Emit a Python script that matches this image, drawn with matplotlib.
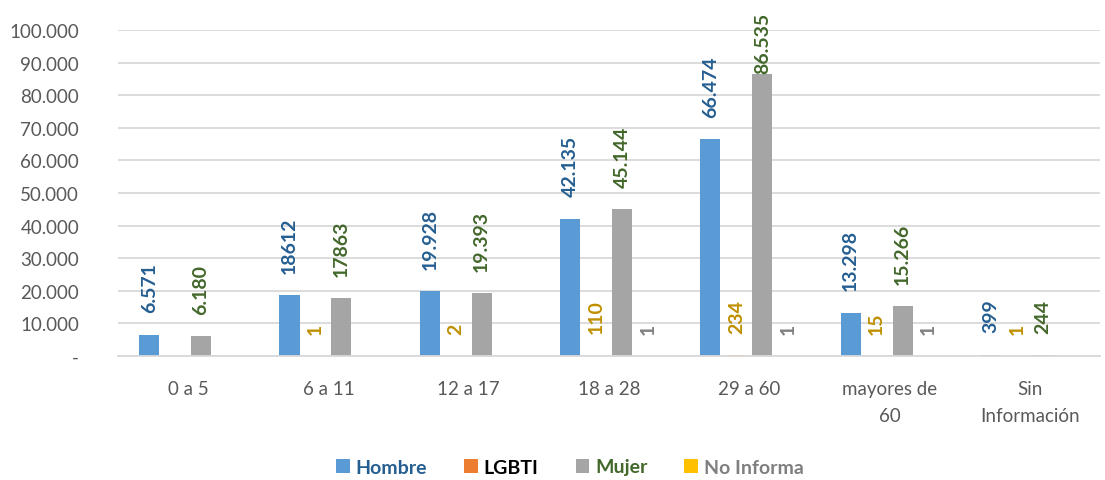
import numpy as np
import matplotlib.pyplot as plt
from matplotlib.ticker import FuncFormatter

# Data
categories = ['0 a 5', '6 a 11', '12 a 17', '18 a 28', '29 a 60', 'mayores de\n60', 'Sin\nInformación']
hombre = [6571, 18612, 19928, 42135, 66474, 13298, 399]
lgbti = [np.nan, 1, 2, 110, 234, 15, 1]
mujer = [6180, 17863, 19393, 45144, 86535, 15266, 244]
no_informa = [np.nan, np.nan, np.nan, 1, 1, 1, np.nan]

hombre_lbl = ['6.571', '18612', '19.928', '42.135', '66.474', '13.298', '399']
lgbti_lbl = ['', '1', '2', '110', '234', '15', '1']
mujer_lbl = ['6.180', '17863', '19.393', '45.144', '86.535', '15.266', '244']
no_informa_lbl = ['', '', '', '1', '1', '1', '']

series = [
    ('Hombre', hombre, hombre_lbl, '#5B9BD5', '#255E91', '#255E91'),
    ('LGBTI', lgbti, lgbti_lbl, '#ED7D31', '#BF9000', '#000000'),
    ('Mujer', mujer, mujer_lbl, '#A5A5A5', '#43682B', '#43682B'),
    ('No Informa', no_informa, no_informa_lbl, '#FFC000', '#7F7F7F', '#7F7F7F'),
]

plt.rcParams['font.family'] = ['Lato', 'DejaVu Sans']

fig = plt.figure(figsize=(11.05, 4.81), dpi=100)
ax = fig.add_axes([118 / 1105, 124 / 481, 982 / 1105, 326 / 481])

x = np.arange(len(categories))
slot = 0.185
width = 0.143

for i, (name, vals, lbls, color, lcolor, tcolor) in enumerate(series):
    pos = x + (i - 1.5) * slot
    v = np.array(vals, dtype=float)
    ax.bar(pos, np.nan_to_num(v), width, color=color, label=name, zorder=2)
    for p, val, lab in zip(pos, v, lbls):
        if not lab:
            continue
        # keep the tallest label inside the chart
        off = 1 if val > 80000 else 16
        ax.annotate(lab, (p, val), xytext=(0, off), textcoords='offset points',
                    rotation=90, ha='center', va='bottom', fontsize=14,
                    fontweight='bold', color=lcolor, annotation_clip=False)

ax.set_ylim(0, 100000)
ax.set_xlim(-0.5, len(categories) - 0.5)
ax.set_yticks(np.arange(0, 100001, 10000))
ax.yaxis.set_major_formatter(FuncFormatter(
    lambda v, _: '-' if v == 0 else f'{int(v):,}'.replace(',', '.')))
ax.set_xticks(x)
ax.set_xticklabels(categories, linespacing=1.75)
ax.tick_params(axis='both', length=0, labelsize=13.5, colors='#595959')
ax.tick_params(axis='x', pad=17)
ax.tick_params(axis='y', pad=28)
ax.grid(axis='y', color='#D9D9D9', linewidth=1.3, zorder=0)
for s in ['top', 'right', 'left']:
    ax.spines[s].set_visible(False)
ax.spines['bottom'].set_color('#D9D9D9')
ax.spines['bottom'].set_linewidth(1.3)

leg = fig.legend(loc='center', bbox_to_anchor=(570 / 1105, 1 - 468 / 481), ncol=4,
                 frameon=False, handlelength=0.7, handleheight=0.7,
                 handletextpad=0.3, columnspacing=1.9, prop={'weight': 'bold', 'size': 14})
for txt, s in zip(leg.get_texts(), series):
    txt.set_color(s[5])

plt.savefig('out.png', dpi=100)
